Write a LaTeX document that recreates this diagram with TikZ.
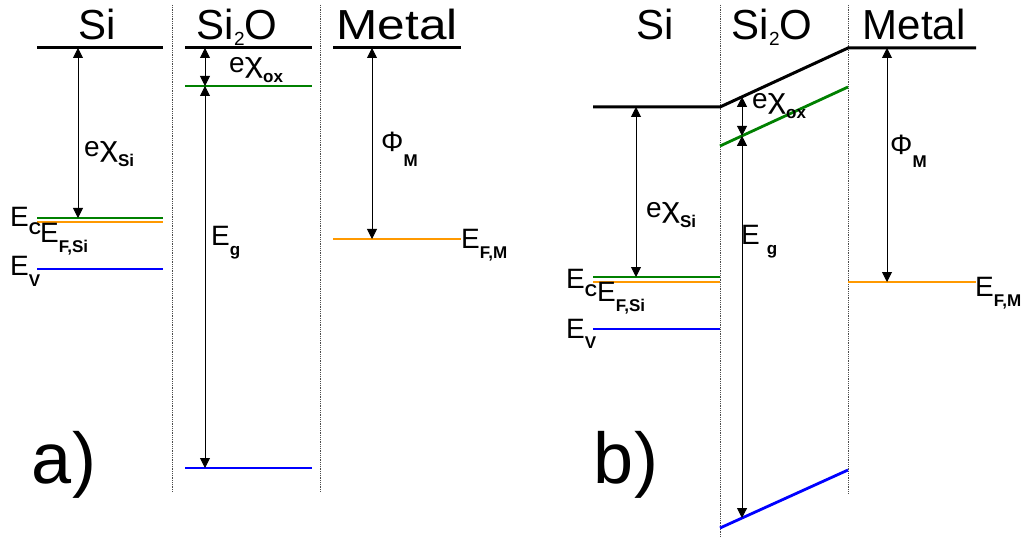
\documentclass[tikz,border=0pt]{standalone}
\usepackage{fontspec}
\setmainfont{Liberation Sans}
\usepackage{tikz}
\usetikzlibrary{arrows.meta, calc}
\definecolor{lvgreen}{HTML}{008000}
\definecolor{lvorange}{HTML}{FF9900}
\definecolor{lvblue}{HTML}{0000FF}
\newcommand{\lvsub}[2][-10pt]{\raisebox{#1}{\fontsize{17}{17}\selectfont\bfseries #2}}
\newcommand{\lvtwo}{\raisebox{-6pt}{\fontsize{19}{19}\selectfont 2}}
\newcommand{\lvchi}{\scalebox{1.25}[1]{χ}}

\begin{document}
\begin{tikzpicture}[
  x=1pt, y=-1pt,
  band/.style={draw=#1, line width=2.8pt},
  vac/.style={draw=black, line width=3pt},
  iface/.style={densely dotted, black!70, line width=0.8pt},
  lvarrow/.style={{Triangle[length=10pt,width=10pt]}-{Triangle[length=10pt,width=10pt]}, black, line width=0.9pt},
  title/.style={anchor=base, inner sep=0pt, font=\fontsize{42}{42}\selectfont},
  lbl/.style={anchor=base west, inner sep=0pt, font=\fontsize{28}{28}\selectfont},
  tag/.style={anchor=base, inner sep=0pt, font=\fontsize{72}{72}\selectfont},
]
  \useasboundingbox (0,0) rectangle (1027,537);

  % a) Interfaces and headers
  \draw[iface] (172,5) -- (172,492);
  \draw[iface] (320,5) -- (320,492);
  \node[title] (aSi) at (97,40) {Si};
  \node[title] (aOx) at (237,40) {Si\lvtwo O};
  \node[title] (aMe) at (397,40) {\scalebox{1.18}[1]{Metal}};

  % a) Levels
  \draw[vac] (37,48) -- (163,48);
  \draw[vac] (185,48) -- (312,48);
  \draw[vac] (333,48) -- (461,48);
  \draw[band=lvgreen] (37,218) -- (163,218);
  \draw[band=lvorange] (37,222) -- (163,222);
  \draw[band=lvblue] (37,269) -- (163,269);
  \draw[band=lvgreen] (185,86) -- (312,86);
  \draw[band=lvblue] (185,468) -- (312,468);
  \draw[band=lvorange] (333,239) -- (461,239);

  % a) Gaps
  \coordinate (aVacSi) at (78,48);
  \coordinate (aEcSi) at (78,218);
  \coordinate (aVacOx) at (205,48);
  \coordinate (aEcOx) at (205,86);
  \coordinate (aEvOx) at (205,468);
  \coordinate (aVacM) at (372,48);
  \coordinate (aEfM) at (372,239);
  \draw[lvarrow] (aVacSi) -- (aEcSi);
  \draw[lvarrow] (aVacOx) -- (aEcOx);
  \draw[lvarrow] (aEcOx) -- (aEvOx);
  \draw[lvarrow] (aVacM) -- (aEfM);

  % a) Labels
  \node[lbl] (aEcL) at (10,227) {E\lvsub[-8pt]{C}};
  \node[lbl] (aEfL) at (40,243) {E\lvsub{F,Si}};
  \node[lbl] (aEvL) at (10,276) {E\lvsub{V}};
  \node[lbl] (aChiSi) at (84,157) {e\lvchi\lvsub{Si}};
  \node[lbl] (aChiOx) at (229,73) {e\lvchi\lvsub{ox}};
  \node[lbl] (aEg) at (211,245) {E\lvsub{g}};
  \node[lbl] (aPhi) at (381,152) {Φ\lvsub[-15pt]{M}};
  \node[lbl] (aEfML) at (461,248) {E\lvsub{F,M}};
  \node[tag] (aTag) at (64,483) {a)};

  % b) Interfaces and headers
  \draw[iface] (720,5) -- (720,537);
  \draw[iface] (848,5) -- (848,493);
  \node[title] (bSi) at (655,40) {Si};
  \node[title] (bOx) at (772,40) {Si\lvtwo O};
  \node[title] (bMe) at (914,40) {Metal};

  % b) Levels
  \coordinate (bOxVacL) at (720,107);
  \coordinate (bOxVacR) at (848,48);
  \coordinate (bOxEcL) at (720,146);
  \coordinate (bOxEcR) at (848,87);
  \coordinate (bOxEvL) at (720,528);
  \coordinate (bOxEvR) at (848,470);
  \draw[vac] (593,107) -- (bOxVacL) -- (bOxVacR) -- (976,48);
  \draw[band=lvgreen] (bOxEcL) -- (bOxEcR);
  \draw[band=lvblue] (bOxEvL) -- (bOxEvR);
  \draw[band=lvgreen] (593,277) -- (720,277);
  \draw[band=lvorange] (593,282) -- (720,282);
  \draw[band=lvblue] (593,329) -- (720,329);
  \draw[band=lvorange] (848,282) -- (976,282);

  % b) Gaps
  \coordinate (bVacSi) at (636,107);
  \coordinate (bEcSi) at (636,277);
  \coordinate (bVacOx) at ($(bOxVacL)!0.172!(bOxVacR)$);
  \coordinate (bEcOx) at ($(bOxEcL)!0.172!(bOxEcR)$);
  \coordinate (bEvOx) at ($(bOxEvL)!0.172!(bOxEvR)$);
  \coordinate (bVacM) at (887,48);
  \coordinate (bEfM) at (887,282);
  \draw[lvarrow] (bVacSi) -- (bEcSi);
  \draw[lvarrow] (bVacOx) -- (bEcOx);
  \draw[lvarrow] (bEcOx) -- (bEvOx);
  \draw[lvarrow] (bVacM) -- (bEfM);

  % b) Labels
  \node[lbl] (bEcL) at (566,288) {E\lvsub[-8pt]{C}};
  \node[lbl] (bEfL) at (597,301) {E\lvsub{F,Si}};
  \node[lbl] (bEvL) at (566,338) {E\lvsub{V}};
  \node[lbl] (bChiSi) at (646,218) {e\lvchi\lvsub{Si}};
  \node[lbl] (bChiOx) at (752,109) {e\lvchi\lvsub{ox}};
  \node[lbl] (bEg) at (741,244) {E\hspace{7pt}\lvsub{g}};
  \node[lbl] (bPhi) at (890,155) {Φ\lvsub[-13pt]{M}};
  \node[lbl] (bEfML) at (975,296) {E\lvsub{F,M}};
  \node[tag] (bTag) at (626,483) {b)};
\end{tikzpicture}
\end{document}
